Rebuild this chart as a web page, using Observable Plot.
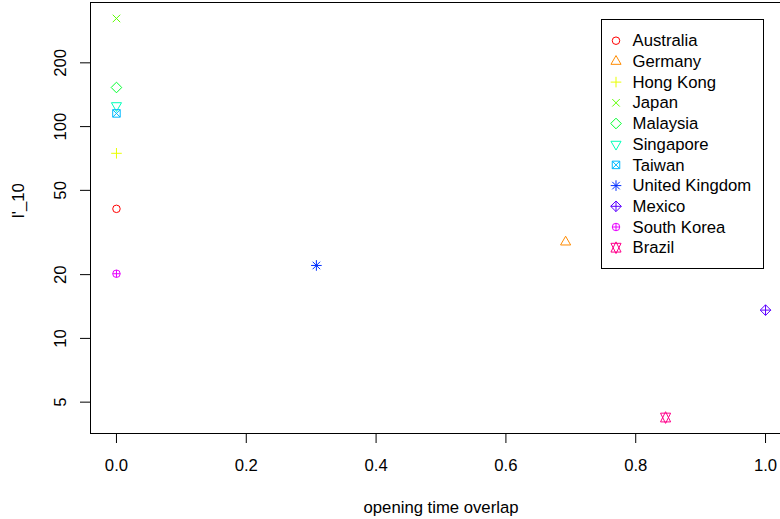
<!DOCTYPE html>
<html>
<head>
<meta charset="utf-8">
<script src="https://cdn.jsdelivr.net/npm/d3@7"></script>
<script src="https://cdn.jsdelivr.net/npm/@observablehq/plot@0.6"></script>
<style>
  html, body { margin: 0; padding: 0; background: #fff; overflow: hidden; }
  #chart { position: relative; width: 780px; height: 519px; overflow: hidden;
           font-family: "Liberation Sans", Arial, Helvetica, sans-serif; }
  #chart svg { display: block; }
  #legend { position: absolute; left: 0; top: 0; }
</style>
</head>
<body>
<div id="chart"></div>
<script>
// Markets, their opening-time overlap and l'_10 values
const countries = ["Australia", "Germany", "Hong Kong", "Japan", "Malaysia", "Singapore",
                   "Taiwan", "United Kingdom", "Mexico", "South Korea", "Brazil"];
const overlap = [0, 0.692, 0, 0, 0, 0, 0, 0.308, 1.0, 0, 0.846];
const l10 = [40.9, 28.5, 74.8, 324, 153, 125.6, 115.4, 22.1, 13.6, 20.2, 4.23];
// rainbow(11)
const colors = ["#FF0000", "#FF8B00", "#E8FF00", "#5DFF00", "#00FF2E", "#00FFB9",
                "#00B9FF", "#002EFF", "#5D00FF", "#E800FF", "#FF008B"];
const xTicks = [0, 0.2, 0.4, 0.6, 0.8, 1.0];
const yTicks = [5, 10, 20, 50, 100, 200];
const xTitle = "opening time overlap";
const yTitle = "l'_10";

const FONT = "16.7px";
const R = 3.75; // base symbol radius

// Plotting symbols 1..11 (circle, triangle, plus, cross, diamond, ...)
const SQ2 = Math.SQRT2;
const TRC0 = Math.sqrt(4 * Math.PI / (3 * Math.sqrt(3)));
const TRC1 = TRC0 * Math.sqrt(3) / 2;
const TRC2 = TRC0 / 2;
const rad = size => Math.sqrt(size / Math.PI);
function circ(c, s) { c.moveTo(s, 0); c.arc(0, 0, s, 0, 2 * Math.PI); }
function plus(c, a) { c.moveTo(-a, 0); c.lineTo(a, 0); c.moveTo(0, -a); c.lineTo(0, a); }
function cross(c, s) { c.moveTo(-s, -s); c.lineTo(s, s); c.moveTo(s, -s); c.lineTo(-s, s); }
function diam(c, a) { c.moveTo(0, -a); c.lineTo(a, 0); c.lineTo(0, a); c.lineTo(-a, 0); c.closePath(); }
function tri(c, s, up) {
  const r = TRC0 * s, yc = TRC2 * s, xc = TRC1 * s, k = up ? 1 : -1;
  c.moveTo(0, -k * r); c.lineTo(xc, k * yc); c.lineTo(-xc, k * yc); c.closePath();
}
const symbols = [
  {draw(c, z) { circ(c, rad(z)); }},
  {draw(c, z) { tri(c, rad(z), true); }},
  {draw(c, z) { plus(c, SQ2 * rad(z)); }},
  {draw(c, z) { cross(c, rad(z)); }},
  {draw(c, z) { diam(c, SQ2 * rad(z)); }},
  {draw(c, z) { tri(c, rad(z), false); }},
  {draw(c, z) { const s = rad(z); c.rect(-s, -s, 2 * s, 2 * s); cross(c, s); }},
  {draw(c, z) { const s = rad(z); cross(c, s); plus(c, SQ2 * s); }},
  {draw(c, z) { const a = SQ2 * rad(z); diam(c, a); plus(c, a); }},
  {draw(c, z) { const s = rad(z); circ(c, s); plus(c, s); }},
  {draw(c, z) {
    const s = rad(z), r = TRC0 * s, yc = 0.5 * (TRC2 * s + r), xc = TRC1 * s;
    c.moveTo(0, r); c.lineTo(xc, -yc); c.lineTo(-xc, -yc); c.closePath();
    c.moveTo(0, -r); c.lineTo(xc, yc); c.lineTo(-xc, yc); c.closePath();
  }}
];

const data = countries.map((c, i) => ({country: c, overlap: overlap[i], l10: l10[i]}));

// 4% padding on each side of the data range (log scale for y)
const xe = d3.extent(overlap), xs = xe[1] - xe[0];
const le = d3.extent(l10, Math.log10), ls = le[1] - le[0];
const xDomain = [xe[0] - 0.04 * xs, xe[1] + 0.04 * xs];
const yDomain = [10 ** (le[0] - 0.04 * ls), 10 ** (le[1] + 0.04 * ls)];

const chart = Plot.plot({
  width: 780,
  height: 519,
  marginLeft: 90,
  marginTop: 2,
  marginBottom: 86,
  marginRight: -11,
  style: {fontFamily: "'Liberation Sans', Arial, Helvetica, sans-serif", fontSize: FONT,
          color: "black", background: "white", overflow: "hidden"},
  x: {domain: xDomain, label: null},
  y: {type: "log", domain: yDomain, label: null},
  color: {domain: countries, range: colors},
  symbol: {domain: countries, range: symbols},
  marks: [
    Plot.frame({stroke: "black"}),
    Plot.axisX({ticks: xTicks, tickSize: 10, tickPadding: 16, tickFormat: d3.format(".1f"),
                label: null, fontSize: FONT, stroke: "black"}),
    Plot.axisY({ticks: yTicks, tickSize: 10, tickFormat: () => "", label: null, stroke: "black"}),
    Plot.text(yTicks, {y: d => d, text: d => String(d), frameAnchor: "left", dx: -30,
                       rotate: -90, textAnchor: "middle", lineAnchor: "middle", fill: "black"}),
    Plot.text([xTitle], {text: d => d, frameAnchor: "bottom", dy: 74,
                         lineAnchor: "middle", fill: "black"}),
    Plot.text([yTitle], {text: d => d, frameAnchor: "left", dx: -72, rotate: -90,
                         lineAnchor: "middle", fill: "black"}),
    Plot.dot(data, {x: "overlap", y: "l10", symbol: "country", stroke: "country",
                    fill: "none", r: R, strokeWidth: 1})
  ]
});

const root = document.getElementById("chart");
root.appendChild(chart);

// Legend box in the upper right of the plotting region
const lg = {x: 601, y: 19, w: 162, h: 249, first: 40.7, step: 20.7, sx: 616, tx: 632.5};
const svg = d3.select(root).append("svg")
  .attr("id", "legend").attr("width", 780).attr("height", 519);
svg.append("rect")
  .attr("x", lg.x + 0.5).attr("y", lg.y + 0.5).attr("width", lg.w).attr("height", lg.h)
  .attr("fill", "white").attr("stroke", "black").attr("stroke-width", 1);
const rows = svg.selectAll("g.row").data(countries).join("g")
  .attr("class", "row")
  .attr("transform", (d, i) => `translate(0,${lg.first + i * lg.step})`);
rows.append("path")
  .attr("transform", `translate(${lg.sx},0)`)
  .attr("d", (d, i) => d3.symbol(symbols[i], Math.PI * R * R)())
  .attr("fill", "none")
  .attr("stroke", (d, i) => colors[i])
  .attr("stroke-width", 1);
rows.append("text")
  .attr("x", lg.tx).attr("dy", "0.34em")
  .attr("font-family", "'Liberation Sans', Arial, Helvetica, sans-serif")
  .attr("font-size", FONT)
  .attr("fill", "black")
  .text(d => d);
</script>
</body>
</html>
